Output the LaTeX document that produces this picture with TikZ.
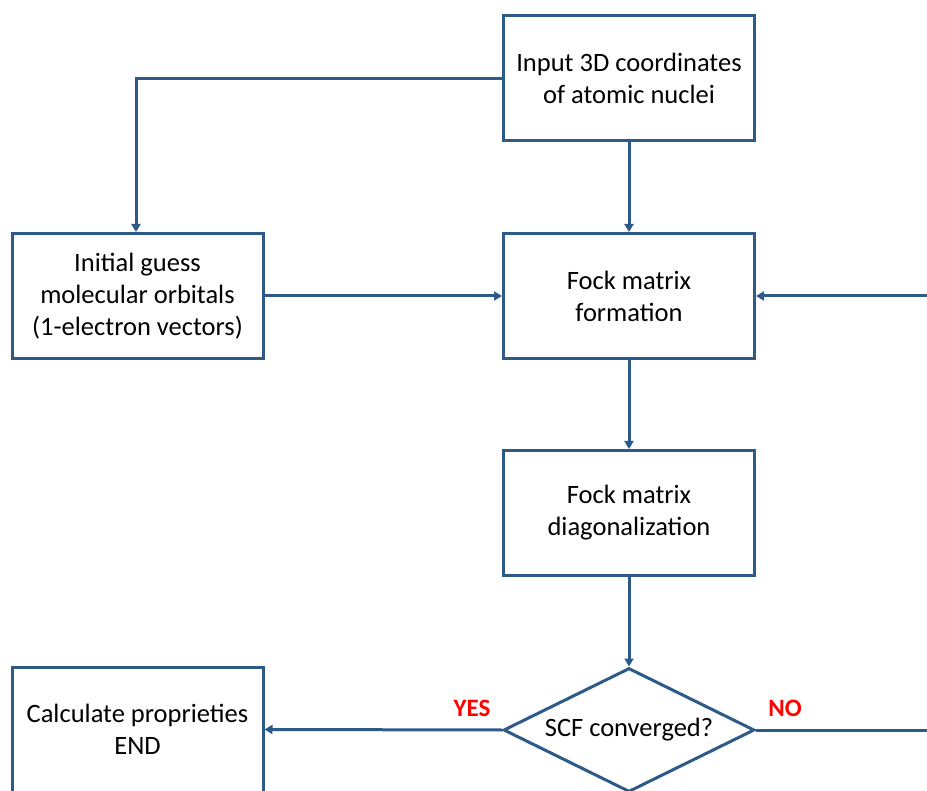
\documentclass[tikz,border=0pt]{standalone}
\usepackage{fontspec}
\setmainfont{Carlito}
\usetikzlibrary{shapes.geometric,arrows.meta}
\definecolor{lineblue}{HTML}{2E5A88}
\definecolor{lblred}{HTML}{FF0000}
\tikzset{
  procbox/.style={draw=lineblue,line width=3pt,fill=white,minimum width=251pt,minimum height=125pt,inner sep=0pt,align=center,font=\fontsize{26.5}{32}\selectfont},
  decbox/.style={draw=lineblue,line width=3pt,fill=white,shape=diamond,aspect=2,minimum width=251pt,minimum height=124pt,inner sep=0pt,align=center,font=\fontsize{26.5}{32}\selectfont},
  conn/.style={draw=lineblue,line width=3pt},
  arr/.style={conn,-{Triangle[length=8pt,width=9pt]}},
  lbl/.style={text=lblred,font=\fontsize{25}{28}\selectfont\bfseries}
}
\begin{document}
\begin{tikzpicture}[x=1pt,y=-1pt]
\useasboundingbox (0,0) rectangle (927,791);
\clip (0,0) rectangle (927,791);
\node[procbox] (inp) at (629,78.5) {Input 3D coordinates\\of atomic nuclei};
\node[procbox] (init) at (137.5,296) {Initial guess\\molecular orbitals\\(1-electron vectors)};
\node[procbox] (fock) at (629,296) {Fock matrix\\formation};
\node[procbox] (diag) at (629,513) {Fock matrix\\diagonalization};
\node[decbox] (scf) at (629,730) {SCF converged?};
\node[procbox] (calc) at (137.5,729.5) {Calculate proprieties\\END};
\coordinate (corner) at (136,78.5);
\coordinate (rin) at (930,296);
\coordinate (rout) at (930,730);
\draw[arr] (inp.west) -- (corner) -- (corner |- init.north);
\draw[arr] (inp.south) -- (fock.north);
\draw[arr] (init.east) -- (fock.west);
\draw[arr] (rin) -- (fock.east);
\draw[arr] (fock.south) -- (diag.north);
\draw[arr] (diag.south) -- (scf.north);
\draw[arr] (scf.west) -- (calc.east);
\draw[conn] (scf.east) -- (rout);
\node[lbl] (yes) at (472,708) {YES};
\node[lbl] (no) at (785,708) {NO};
\end{tikzpicture}
\end{document}
